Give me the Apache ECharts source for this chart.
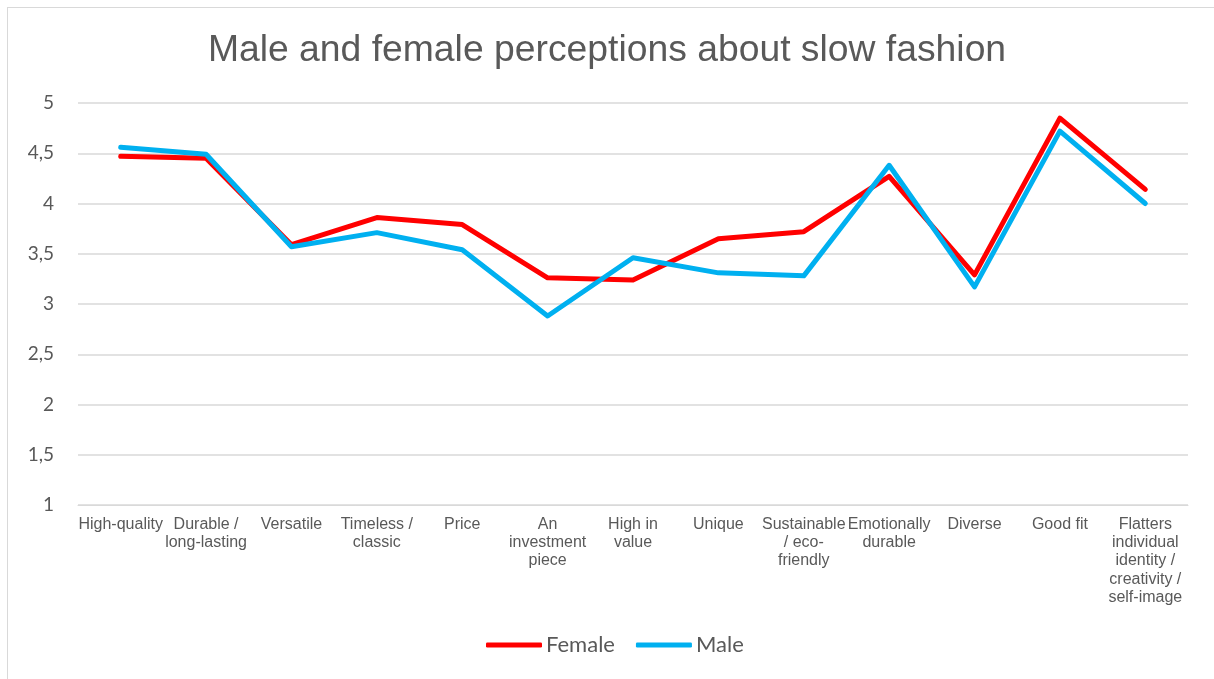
<!DOCTYPE html>
<html>
<head>
<meta charset="utf-8">
<script src="https://cdn.jsdelivr.net/npm/echarts@6/dist/echarts.min.js"></script>
<style>
  html, body { margin: 0; padding: 0; background: #fff; }
  #frame { position: absolute; left: 7px; top: 7px; width: 1214px; height: 679px; border: 1px solid #d9d9d9; box-sizing: border-box; }
  #chart { position: absolute; left: 0; top: 0; width: 1214px; height: 679px; }
</style>
</head>
<body>
<div id="frame"></div>
<div id="chart"></div>
<script>
// Perception attributes (x axis)
const categories = [
  "High-quality", "Durable /\nlong-lasting", "Versatile", "Timeless /\nclassic", "Price",
  "An\ninvestment\npiece", "High in\nvalue", "Unique", "Sustainable\n/ eco-\nfriendly",
  "Emotionally\ndurable", "Diverse", "Good fit",
  "Flatters\nindividual\nidentity /\ncreativity /\nself-image"
];

// Mean scores per group
const female = [4.47, 4.45, 3.59, 3.86, 3.79, 3.26, 3.24, 3.65, 3.72, 4.27, 3.29, 4.85, 4.14];
const male   = [4.56, 4.49, 3.57, 3.71, 3.54, 2.88, 3.46, 3.31, 3.28, 4.38, 3.17, 4.72, 4.00];

const chart = echarts.init(document.getElementById('chart'), null, { renderer: 'canvas' });

chart.setOption({
  backgroundColor: 'transparent',
  animation: false,
  title: {
    text: 'Male and female perceptions about slow fashion',
    left: 'center',
    top: 27,
    textStyle: { fontFamily: 'Liberation Sans', fontSize: 37.3, fontWeight: 'normal', color: '#595959' }
  },
  legend: {
    bottom: 18,
    left: 481,
    itemWidth: 56,
    itemHeight: 5,
    itemGap: 21,
    icon: 'roundRect',
    textStyle: { fontFamily: 'Lato', fontSize: 22, color: '#595959', padding: [0, 0, 0, -1] },
    data: ['Female', 'Male']
  },
  grid: { left: 78, right: 26, top: 103, bottom: 174, containLabel: false },
  xAxis: {
    type: 'category',
    data: categories,
    boundaryGap: true,
    axisLine: { lineStyle: { color: '#d9d9d9', width: 1 } },
    axisTick: { show: false },
    axisLabel: {
      interval: 0,
      margin: 10,
      fontFamily: 'Liberation Sans',
      fontSize: 16,
      lineHeight: 18.4,
      color: '#595959',
      align: 'center'
    }
  },
  yAxis: {
    type: 'value',
    min: 1,
    max: 5,
    interval: 0.5,
    axisLine: { show: false },
    axisTick: { show: false },
    splitLine: { lineStyle: { color: '#d9d9d9', width: 1.5 } },
    axisLabel: {
      margin: 24,
      fontFamily: 'Lato',
      fontSize: 19,
      color: '#595959',
      formatter: v => String(v).replace('.', ',')
    }
  },
  series: [
    {
      name: 'Female',
      type: 'line',
      data: female,
      symbol: 'none',
      color: '#ff0000',
      lineStyle: { width: 5, color: '#ff0000', cap: 'round', join: 'round' },
      z: 2
    },
    {
      name: 'Male',
      type: 'line',
      data: male,
      symbol: 'none',
      color: '#00b0f0',
      lineStyle: { width: 5, color: '#00b0f0', cap: 'round', join: 'round' },
      z: 3
    }
  ]
});
</script>
</body>
</html>
